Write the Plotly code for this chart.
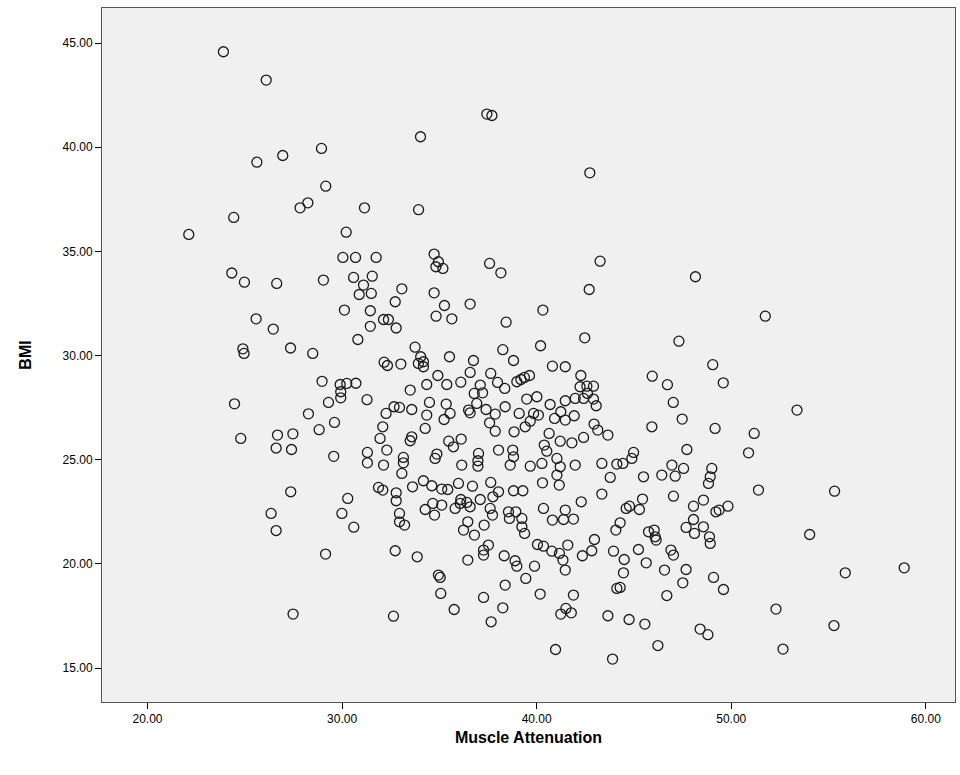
import plotly.graph_objects as go

# Muscle Attenuation (x) and BMI (y) values
muscle_attenuation = [
    23.90, 26.10, 28.94, 26.95, 25.62, 29.16, 28.24, 27.84, 31.15, 24.43, 30.21, 22.12,
    37.44, 37.70, 34.03, 33.93, 42.73,
    30.04, 30.69, 24.33, 24.98, 26.64, 29.04, 30.59, 31.10, 31.55, 30.88, 31.50, 30.12, 31.45,
    25.58, 26.46, 31.45, 30.81, 24.90, 24.96, 27.35, 28.49, 28.97, 29.90, 30.24, 30.71, 29.93,
    29.93, 29.30, 31.28, 24.47, 28.27, 29.61, 28.82, 24.79, 26.68, 27.47, 26.61, 27.40, 29.57,
    31.30, 31.30,
    31.75, 34.73, 34.95, 34.82, 35.18, 37.58, 38.16, 33.07, 32.73, 34.73, 35.26, 36.58, 34.83,
    35.64, 40.32, 38.43, 32.13, 32.38, 32.78, 33.75, 40.20, 38.26, 38.81, 35.52, 36.75, 34.04,
    33.92, 34.18, 34.18, 32.16, 32.33, 33.02, 40.81, 41.47, 36.58, 34.92, 37.64, 38.98, 39.19,
    39.37, 39.63, 34.35, 35.38, 36.10, 37.10, 37.99, 38.36, 33.50, 36.79, 37.22, 39.49, 40.01,
    40.69, 41.47, 34.49, 35.35, 36.92, 38.38, 32.67, 32.95, 33.58, 32.26, 36.50, 36.58, 37.40,
    34.35, 35.55, 35.24, 37.87, 39.10, 39.84, 40.09, 41.24, 41.47, 40.92, 32.09, 34.27, 37.58,
    37.87, 39.41, 39.67, 38.84, 40.64, 31.95, 33.58, 33.50, 35.48, 36.12, 35.72, 32.30, 38.04,
    38.77, 40.39, 41.21, 40.52, 37.01, 34.87, 34.78, 33.15, 33.15, 38.81, 36.98, 36.98, 41.04,
    32.13, 36.15, 38.64, 39.67, 40.27, 41.21,
    33.07, 41.04, 31.87, 32.09, 32.78, 32.78, 32.95, 32.95, 33.21, 33.62, 34.18, 34.61, 35.12,
    35.43, 35.98, 36.70, 37.64, 38.04, 38.81, 39.29, 40.30, 41.16, 37.10, 37.75, 36.10, 36.41,
    36.58, 35.81, 36.07, 34.27, 34.66, 34.75, 35.12, 37.61, 37.73, 38.55, 38.60, 38.93, 39.24,
    39.24, 39.38, 40.35, 40.81, 41.38, 41.47, 36.46, 36.24, 36.80, 37.30, 32.73, 33.86, 34.95,
    35.04, 35.07, 36.46, 37.27, 37.52, 37.27, 38.33, 38.89, 38.98, 39.89, 39.44, 40.04, 40.35,
    40.78, 41.17, 41.35, 41.47, 41.60, 38.38, 37.27, 38.26, 37.66, 35.76, 32.64, 40.18, 41.24,
    41.50, 40.97,
    43.78, 45.49, 46.43, 47.12, 48.92, 48.83, 43.35, 42.29, 41.89, 51.40, 47.03, 45.44, 44.77,
    44.60, 45.28, 48.06, 48.57, 49.83, 49.38, 49.21, 48.06, 47.68, 48.11, 48.57, 48.88, 48.92,
    44.29, 44.07, 45.75, 46.04, 46.09, 46.14, 42.97, 42.83, 42.35, 43.95, 44.50, 45.23, 45.63,
    46.90, 47.03, 44.46, 46.57, 47.68, 47.51, 49.09, 49.60, 46.69, 44.12, 44.29, 41.89, 41.78,
    43.66, 44.75, 45.56, 48.40, 48.80, 46.23, 43.90,
    43.26, 48.16, 42.70, 51.75, 42.47, 47.31, 49.05, 49.59, 45.94, 46.72, 47.02, 47.48, 49.17,
    51.18, 45.92, 47.72, 50.89, 42.27, 42.23, 42.58, 42.92, 42.61, 41.98, 42.41, 42.92, 43.06,
    41.93, 42.95, 43.14, 43.66, 42.41, 41.81, 41.98, 43.35, 44.12, 44.43, 44.89, 44.98, 46.95,
    47.55, 49.00,
    53.38,
    55.31, 54.03, 55.86, 58.89, 52.30, 55.28, 52.66,
    27.36, 26.35, 26.61, 30.29, 29.99, 30.60, 29.15, 27.48,
]

bmi = [
    44.58, 43.22, 39.94, 39.60, 39.28, 38.13, 37.33, 37.09, 37.09, 36.63, 35.92, 35.81,
    41.59, 41.52, 40.50, 37.00, 38.77,
    34.71, 34.71, 33.96, 33.52, 33.46, 33.62, 33.75, 33.38, 33.81, 32.93, 32.98, 32.18, 32.15,
    31.76, 31.27, 31.40, 30.77, 30.32, 30.10, 30.36, 30.10, 28.76, 28.61, 28.66, 28.67, 28.26,
    27.97, 27.75, 27.88, 27.68, 27.20, 26.79, 26.44, 26.02, 26.18, 26.24, 25.56, 25.49, 25.16,
    25.35, 24.85,
    34.71, 34.87, 34.50, 34.26, 34.18, 34.42, 33.97, 33.20, 32.58, 33.01, 32.40, 32.47, 31.89,
    31.76, 32.18, 31.60, 31.73, 31.73, 31.32, 30.40, 30.47, 30.28, 29.76, 29.94, 29.76, 29.94,
    29.62, 29.70, 29.46, 29.68, 29.52, 29.59, 29.49, 29.46, 29.19, 29.04, 29.14, 28.74, 28.85,
    28.95, 29.04, 28.61, 28.61, 28.72, 28.58, 28.71, 28.42, 28.34, 28.18, 28.21, 27.91, 28.02,
    27.65, 27.83, 27.75, 27.67, 27.70, 27.54, 27.54, 27.51, 27.41, 27.22, 27.38, 27.25, 27.41,
    27.14, 27.22, 26.93, 27.19, 27.22, 27.22, 27.14, 27.30, 26.90, 26.98, 26.58, 26.50, 26.77,
    26.37, 26.58, 26.85, 26.34, 26.26, 26.02, 26.10, 25.91, 25.89, 25.99, 25.62, 25.46, 25.46,
    25.46, 25.70, 25.89, 25.41, 25.30, 25.27, 25.06, 25.11, 24.85, 25.14, 24.95, 24.69, 25.06,
    24.74, 24.74, 24.74, 24.69, 24.82, 24.66,
    24.34, 24.26, 23.67, 23.54, 23.41, 23.03, 22.42, 22.02, 21.86, 23.70, 23.99, 23.75, 23.59,
    23.57, 23.86, 23.73, 23.91, 23.46, 23.51, 23.51, 23.89, 23.78, 23.09, 23.22, 23.09, 22.95,
    22.74, 22.66, 22.90, 22.61, 22.90, 22.34, 22.82, 22.66, 22.34, 22.50, 22.18, 22.50, 22.18,
    21.78, 21.46, 22.66, 22.10, 22.13, 22.58, 22.02, 21.62, 21.38, 21.86, 20.63, 20.34, 19.46,
    19.35, 18.58, 20.18, 20.42, 20.90, 20.66, 20.39, 20.15, 19.89, 19.89, 19.30, 20.93, 20.85,
    20.61, 20.50, 20.18, 19.70, 20.90, 18.98, 18.39, 17.89, 17.22, 17.81, 17.49, 18.55, 17.59,
    17.86, 15.89,
    24.15, 24.18, 24.26, 24.21, 24.18, 23.86, 23.35, 22.98, 22.15, 23.54, 23.25, 23.11, 22.77,
    22.66, 22.61, 22.77, 23.06, 22.77, 22.58, 22.50, 22.13, 21.75, 21.46, 21.78, 21.30, 20.98,
    21.97, 21.62, 21.54, 21.62, 21.30, 21.14, 21.17, 20.63, 20.39, 20.61, 20.21, 20.69, 20.05,
    20.66, 20.42, 19.57, 19.70, 19.73, 19.09, 19.35, 18.77, 18.48, 18.82, 18.87, 18.50, 17.65,
    17.51, 17.33, 17.11, 16.87, 16.60, 16.08, 15.43,
    34.53, 33.78, 33.17, 31.89, 30.85, 30.69, 29.56, 28.69, 29.01, 28.60, 27.75, 26.95, 26.50,
    26.26, 26.58, 25.49, 25.33, 29.04, 28.50, 28.53, 28.53, 28.18, 27.94, 27.94, 27.91, 27.59,
    27.11, 26.71, 26.42, 26.18, 26.07, 25.81, 24.74, 24.82, 24.79, 24.82, 25.06, 25.35, 24.74,
    24.58, 24.58,
    27.38,
    23.49, 21.41, 19.57, 19.81, 17.83, 17.04, 15.91,
    23.46, 22.42, 21.60, 23.14, 22.42, 21.76, 20.47, 17.59,
]

x_ticks = [20, 30, 40, 50, 60]
y_ticks = [15, 20, 25, 30, 35, 40, 45]

fig = go.Figure()
fig.add_trace(go.Scatter(
    x=muscle_attenuation, y=bmi, mode="markers",
    marker=dict(symbol="circle-open", size=10, color="#1a1a1a", line=dict(width=1.3)),
    showlegend=False,
))

axis_font = dict(family="Liberation Sans, Arial, sans-serif", size=12, color="#000")
title_font = dict(family="Liberation Sans, Arial, sans-serif", size=16, color="#000")

fig.update_layout(
    width=960, height=775,
    margin=dict(l=102, r=5, t=8, b=73),
    paper_bgcolor="white", plot_bgcolor="#F0F0F0",
    xaxis=dict(
        range=[17.66, 61.5], tickvals=x_ticks, tickformat=".2f",
        ticks="outside", ticklen=6, tickcolor="#000", tickfont=axis_font,
        showgrid=False, zeroline=False, showline=True, linecolor="#555", linewidth=1, mirror=True,
        title=dict(text="<b>Muscle Attenuation</b>", font=title_font, standoff=6),
    ),
    yaxis=dict(
        range=[13.37, 46.68], tickvals=y_ticks, tickformat=".2f",
        ticks="outside", ticklen=6, tickcolor="#000", tickfont=axis_font,
        showgrid=False, zeroline=False, showline=True, linecolor="#555", linewidth=1, mirror=True,
        title=dict(text="<b>BMI</b>", font=title_font, standoff=26),
    ),
)

fig.write_html("out.html")
